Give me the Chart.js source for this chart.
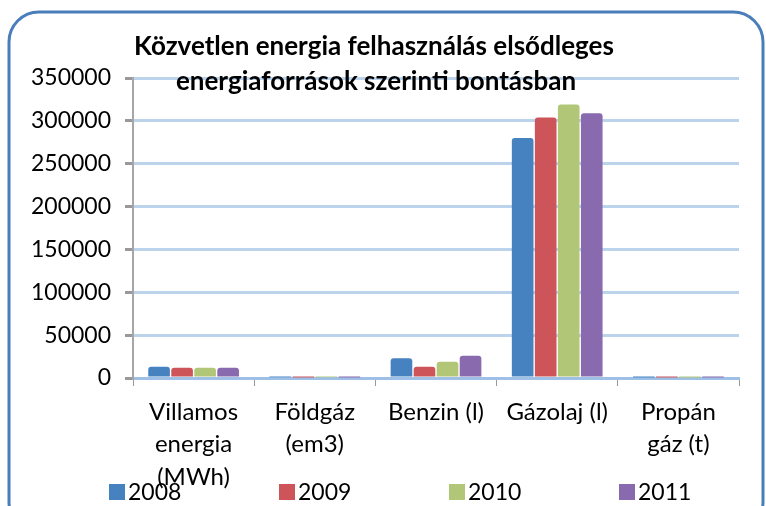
<!DOCTYPE html>
<html>
<head>
<meta charset="utf-8">
<script src="https://cdn.jsdelivr.net/npm/chart.js@4.4.1/dist/chart.umd.min.js"></script>
<style>
  html, body { margin: 0; padding: 0; background: #fff; }
  #wrap { width: 766px; height: 506px; position: relative; }
</style>
</head>
<body>
<div id="wrap"><canvas id="chart" width="766" height="506"></canvas></div>
<script>
// kategóriák (energiaforrások)
const kategoriak = [
  ["Villamos", "energia", "(MWh)"],
  ["Földgáz", "(em3)"],
  "Benzin (l)",
  "Gázolaj (l)",
  ["Propán", "gáz (t)"]
];
const evek = ["2008", "2009", "2010", "2011"];
const adat2008 = [13000, 800, 23000, 280000, 600];
const adat2009 = [12000, 700, 13000, 304000, 500];
const adat2010 = [12000, 800, 19000, 319000, 600];
const adat2011 = [12000, 700, 26000, 309000, 500];
const szinek = ["#4682c0", "#cd5559", "#b1c777", "#8a6aae"];
const cimSorok = ["Közvetlen energia felhasználás elsődleges", "energiaforrások szerinti bontásban"];

const FONT = "Lato, 'Noto Sans', sans-serif";

// keret, cím és jelmagyarázat rajzolása
const keretPlugin = {
  id: "keret",
  afterDraw(chart) {
    const ctx = chart.ctx;
    ctx.save();
    ctx.strokeStyle = "#4a7ebb";
    ctx.lineWidth = 3;
    ctx.beginPath();
    ctx.roundRect(9, 12, 754, 520, 30);
    ctx.stroke();

    // cím
    ctx.fillStyle = "#000";
    ctx.font = "bold 26px " + FONT;
    ctx.textAlign = "center";
    ctx.textBaseline = "middle";
    ctx.fillText(cimSorok[0], 374, 47);
    ctx.fillText(cimSorok[1], 376, 82);

    // jelmagyarázat
    ctx.font = "23px " + FONT;
    ctx.textAlign = "left";
    chart.data.datasets.forEach((ds, i) => {
      const x = 109 + i * 170;
      ctx.fillStyle = ds.backgroundColor;
      ctx.fillRect(x, 484, 16, 16);
      ctx.fillStyle = "#000";
      ctx.fillText(ds.label, x + 19, 493);
    });
    ctx.restore();
  }
};

const ctx = document.getElementById("chart").getContext("2d");
new Chart(ctx, {
  type: "bar",
  data: {
    labels: kategoriak,
    datasets: [
      { label: evek[0], data: adat2008, backgroundColor: szinek[0] },
      { label: evek[1], data: adat2009, backgroundColor: szinek[1] },
      { label: evek[2], data: adat2010, backgroundColor: szinek[2] },
      { label: evek[3], data: adat2011, backgroundColor: szinek[3] }
    ]
  },
  options: {
    responsive: false,
    animation: false,
    layout: { padding: { left: 0, top: 78, right: 27, bottom: 0 } },
    datasets: { bar: { categoryPercentage: 0.76, barPercentage: 0.94, borderRadius: 3 } },
    plugins: {
      legend: { display: false },
      title: { display: false },
      tooltip: { enabled: false }
    },
    scales: {
      x: {
        afterFit(scale) { scale.height = 128; },
        grid: { drawOnChartArea: false, drawTicks: true, tickLength: 8, tickColor: "#999", offset: true },
        border: { color: "#9ec0e6", width: 3 },
        ticks: {
          color: "#000",
          padding: 10,
          maxRotation: 0,
          autoSkip: false,
          font: { family: FONT, size: 24, lineHeight: 1.35 }
        }
      },
      y: {
        min: 0,
        max: 350000,
        afterFit(scale) { scale.width = 133; },
        grid: { color: "#bcd3ec", lineWidth: 3, tickLength: 8, tickColor: "#999" },
        border: { color: "#a6a6a6", width: 2 },
        ticks: {
          stepSize: 50000,
          color: "#000",
          padding: 14,
          font: { family: FONT, size: 23 },
          callback: (v) => String(v)
        }
      }
    }
  },
  plugins: [keretPlugin]
});
</script>
</body>
</html>
